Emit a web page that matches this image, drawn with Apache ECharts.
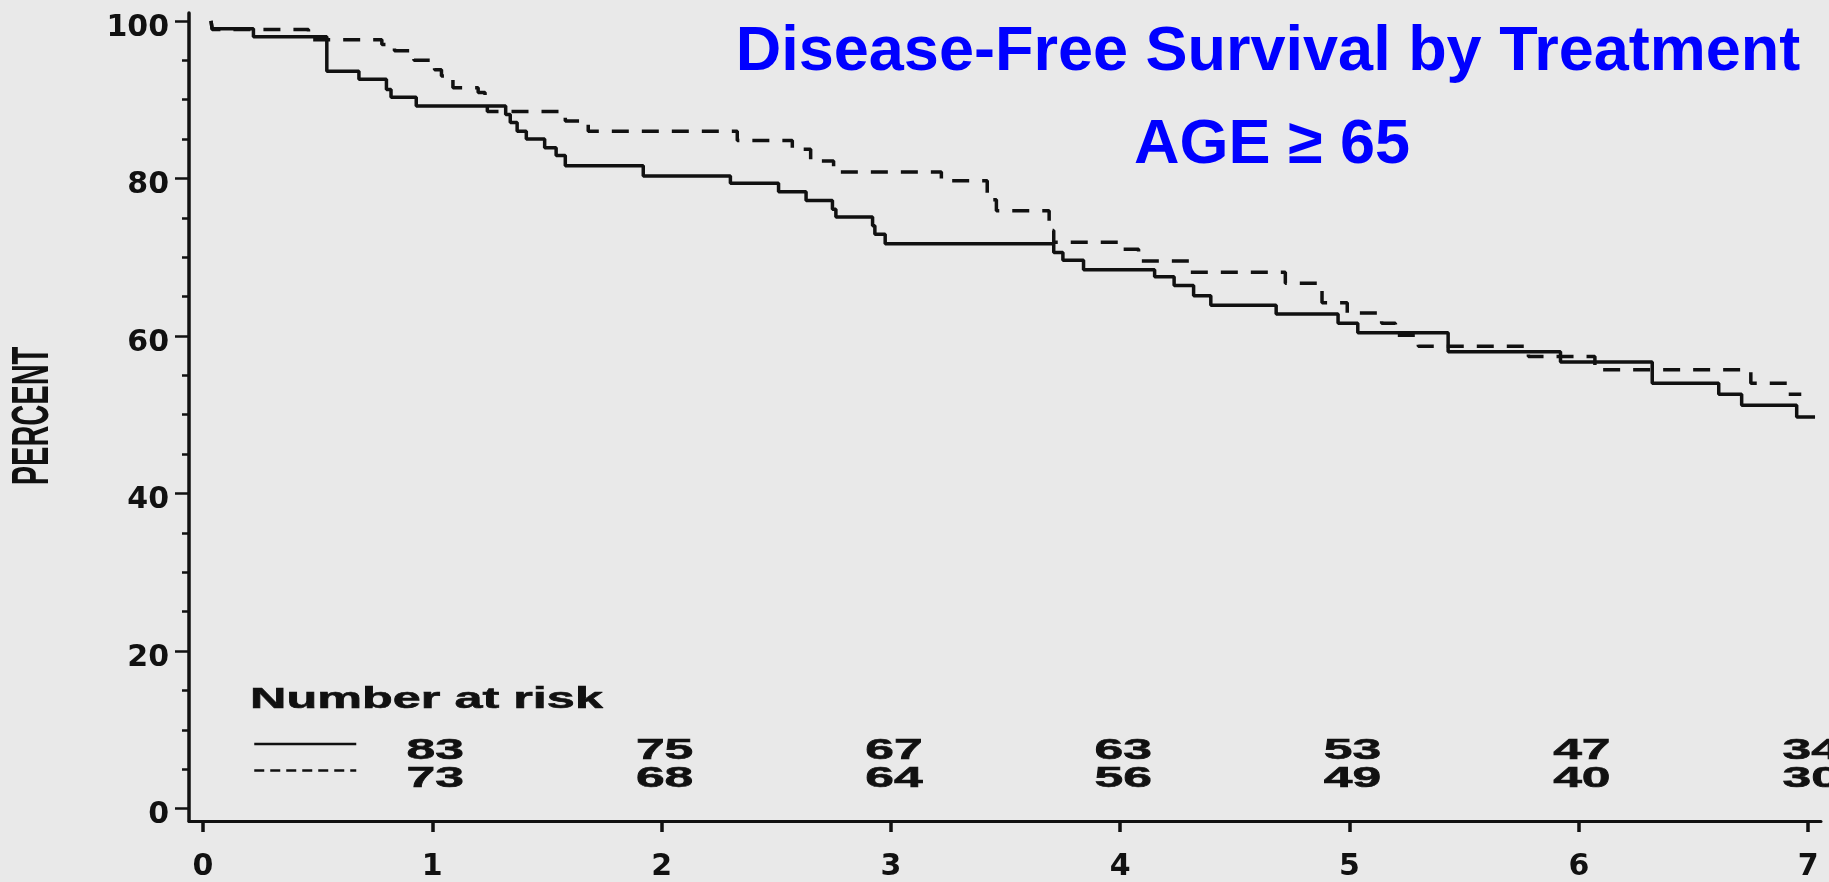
<!DOCTYPE html>
<html>
<head>
<meta charset="utf-8">
<title>Disease-Free Survival by Treatment</title>
<script src="https://cdn.jsdelivr.net/npm/echarts@6.0.0/dist/echarts.min.js"></script>
<style>
  html, body { margin: 0; padding: 0; background: #e9e9e9; }
  #chart { width: 1829px; height: 882px; }
</style>
</head>
<body>
<div id="chart"></div>
<script>
// Kaplan-Meier steps: years, percent disease-free
const solidTimes = [0.035, 0.04, 0.22, 0.54, 0.68, 0.80, 0.82, 0.93, 1.32, 1.34, 1.37, 1.41, 1.49, 1.54, 1.58, 1.92,
  2.30, 2.51, 2.63, 2.745, 2.76, 2.92, 2.93, 2.975, 3.71, 3.75, 3.84, 4.15, 4.235, 4.32, 4.395, 4.68, 4.95, 5.036,
  5.43, 5.92, 6.32, 6.61, 6.71, 6.95, 7.03]
const solidPct = [100, 99.0, 98.0, 93.6, 92.6, 91.3, 90.3, 89.2, 88.1, 87.1, 86.0, 85.0, 83.9, 82.9, 81.6, 80.3,
  79.4, 78.3, 77.2, 76.1, 75.1, 74.0, 72.9, 71.7, 70.6, 69.6, 68.4, 67.5, 66.4, 65.1, 63.9, 62.8, 61.6, 60.4,
  58.0, 56.7, 54.0, 52.6, 51.2, 49.7, 49.7]

const dashedTimes = [0.035, 0.04, 0.46, 0.78, 0.835, 0.92, 1.01, 1.04, 1.09, 1.20, 1.23, 1.24, 1.58, 1.68, 2.33,
  2.57, 2.65, 2.75, 3.22, 3.42, 3.46, 3.69, 3.71, 3.99, 4.08, 4.30, 4.72, 4.88, 4.99, 5.14, 5.20, 5.30, 5.78, 6.07,
  6.75, 6.91, 6.97]
const dashedPct = [100, 98.9, 97.6, 97.0, 96.2, 95.0, 93.8, 93.0, 91.5, 90.9, 90.4, 88.5, 87.3, 86.0, 84.8,
  83.7, 82.2, 80.8, 79.7, 77.3, 75.9, 73.4, 71.9, 71.0, 69.5, 68.1, 66.7, 64.2, 62.9, 61.6, 60.1, 58.7, 57.4, 55.7,
  54.0, 52.6, 52.6]

// number at risk table
const riskTimes = [1, 2, 3, 4, 5, 6, 7]
const riskSolid = [83, 75, 67, 63, 53, 47, 34]
const riskDashed = [73, 68, 64, 56, 49, 40, 30]

// ticks
const xTicks = [0, 1, 2, 3, 4, 5, 6, 7]
const yLabels = [0, 20, 40, 60, 80, 100]
const yMinorTicks = [0, 5, 10, 15, 20, 25, 30, 35, 40, 45, 50, 55, 60, 65, 70, 75, 80, 85, 90, 95, 100]

const ink = '#111'
const stretch = 1.78 // the scanned figure was stretched sideways
const riskRowY = [751, 779]

const zip = (a, b) => a.map((v, i) => [v, b[i]])

let riskData = riskTimes.map((t, i) => [t, 0, riskSolid[i]])
  .concat(riskTimes.map((t, i) => [t, 1, riskDashed[i]]))

let chart = echarts.init(document.getElementById('chart'))

let option = {
  backgroundColor: '#e9e9e9',
  animation: false,
  grid: {left: 189, right: 8, top: 13, bottom: 57},
  xAxis: {
    type: 'value',
    min: -0.061,
    max: 7.056,
    axisLine: {onZero: false, lineStyle: {color: ink, width: 3}},
    axisTick: {customValues: xTicks, length: 11, lineStyle: {color: ink, width: 3.5}},
    axisLabel: {
      customValues: xTicks,
      margin: 31,
      color: ink,
      fontFamily: 'DejaVu Sans',
      fontWeight: 'bold',
      fontSize: 30
    },
    splitLine: {show: false}
  },
  yAxis: [
    {
      type: 'value',
      position: 'left',
      min: -1.58,
      max: 101,
      axisLine: {show: true, onZero: false, lineStyle: {color: ink, width: 3.5}},
      axisTick: {customValues: yMinorTicks, length: 7, lineStyle: {color: ink, width: 2.5}},
      axisLabel: {
        customValues: yLabels,
        margin: 20,
        verticalAlign: 'top',
        lineHeight: 14, // labels sit a little below their ticks in the scan
        color: ink,
        fontFamily: 'DejaVu Sans',
        fontWeight: 'bold',
        fontSize: 30
      },
      splitLine: {show: false}
    },
    { // longer ticks at the labelled values
      type: 'value',
      position: 'left',
      min: -1.58,
      max: 101,
      axisLine: {show: false, onZero: false},
      axisTick: {customValues: yLabels, length: 14, lineStyle: {color: ink, width: 2.5}},
      axisLabel: {show: false},
      splitLine: {show: false}
    }
  ],
  legend: {
    orient: 'vertical',
    left: 248,
    top: 732,
    itemWidth: 102,
    itemHeight: 14,
    itemGap: 14,
    selectedMode: false,
    formatter: () => '',
    itemStyle: {opacity: 0},
    lineStyle: {width: 2.5},
    data: [
      {name: 'Treatment 1'},
      {name: 'Treatment 2', lineStyle: {type: [10, 6]}}
    ]
  },
  series: [
    {
      name: 'Treatment 1',
      type: 'line',
      step: 'end',
      symbol: 'none',
      color: ink,
      lineStyle: {color: ink, width: 3.5},
      data: zip(solidTimes, solidPct),
      z: 3
    },
    {
      name: 'Treatment 2',
      type: 'line',
      step: 'end',
      symbol: 'none',
      color: ink,
      lineStyle: {color: ink, width: 3.5, type: [17, 13]},
      data: zip(dashedTimes, dashedPct),
      z: 2
    },
    {
      name: 'Number at risk',
      type: 'custom',
      encode: {x: 0, y: 1},
      data: riskData,
      z: 4,
      renderItem: (params, api) => {
        let x = api.coord([api.value(0), 0])[0]
        return {
          type: 'text',
          x: x + 3,
          y: riskRowY[api.value(1)],
          scaleX: stretch,
          style: {
            text: String(api.value(2)),
            font: 'bold 29px "Liberation Sans"',
            fill: ink,
            stroke: ink,
            lineWidth: 0.6,
            textAlign: 'center',
            textVerticalAlign: 'middle'
          }
        }
      }
    }
  ],
  graphic: [
    {
      type: 'text',
      x: 1268,
      y: 53,
      style: {
        text: 'Disease-Free Survival by Treatment',
        font: 'bold 63px "Liberation Sans"',
        fill: '#0000ff',
        textAlign: 'center',
        textVerticalAlign: 'middle'
      }
    },
    {
      type: 'text',
      x: 1272,
      y: 146,
      style: {
        text: 'AGE ≥ 65',
        font: 'bold 63px "Liberation Sans"',
        fill: '#0000ff',
        textAlign: 'center',
        textVerticalAlign: 'middle'
      }
    },
    {
      type: 'text',
      x: 250,
      y: 700,
      scaleX: 1.68,
      style: {
        text: 'Number at risk',
        font: 'bold 30px "Liberation Sans"',
        fill: ink,
        stroke: ink,
        lineWidth: 0.6,
        textAlign: 'left',
        textVerticalAlign: 'middle'
      }
    },
    {
      type: 'text',
      x: 34,
      y: 416,
      rotation: Math.PI / 2,
      scaleY: stretch,
      style: {
        text: 'PERCENT',
        font: 'bold 29px "Liberation Sans"',
        fill: ink,
        textAlign: 'center',
        textVerticalAlign: 'middle'
      }
    }
  ]
}

chart.setOption(option)
</script>
</body>
</html>
